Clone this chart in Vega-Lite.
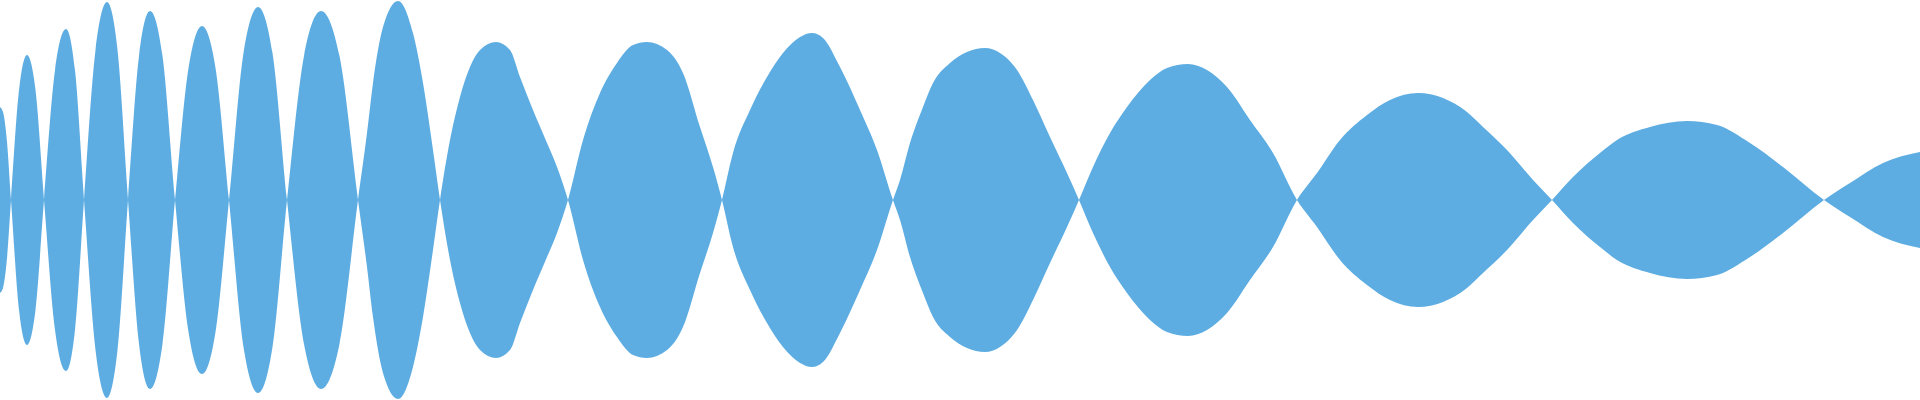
{
  "$schema": "https://vega.github.io/schema/vega-lite/v6.json",
  "width": 1920,
  "height": 400,
  "autosize": {"type": "fit", "contains": "padding"},
  "padding": 0,
  "background": "white",
  "config": {"view": {"stroke": null}},
  "data": {"values": [
    {"t": 0, "upper": 0.465, "lower": -0.465},
    {"t": 0.0156, "upper": 0.44, "lower": -0.44},
    {"t": 0.0365, "upper": 0.29, "lower": -0.29},
    {"t": 0.0573, "upper": 0, "lower": 0},
    {"t": 0.099, "upper": -0.55, "lower": 0.55},
    {"t": 0.1406, "upper": -0.725, "lower": 0.725},
    {"t": 0.1849, "upper": -0.55, "lower": 0.55},
    {"t": 0.2292, "upper": 0, "lower": 0},
    {"t": 0.2865, "upper": 0.65, "lower": -0.65},
    {"t": 0.3438, "upper": 0.855, "lower": -0.855},
    {"t": 0.3906, "upper": 0.65, "lower": -0.65},
    {"t": 0.4375, "upper": 0, "lower": 0},
    {"t": 0.4974, "upper": -0.75, "lower": 0.75},
    {"t": 0.5573, "upper": -0.99, "lower": 0.99},
    {"t": 0.612, "upper": -0.75, "lower": 0.75},
    {"t": 0.6667, "upper": 0, "lower": 0},
    {"t": 0.724, "upper": 0.72, "lower": -0.72},
    {"t": 0.7813, "upper": 0.945, "lower": -0.945},
    {"t": 0.8464, "upper": 0.72, "lower": -0.72},
    {"t": 0.9115, "upper": 0, "lower": 0},
    {"t": 0.9818, "upper": -0.66, "lower": 0.66},
    {"t": 1.0521, "upper": -0.87, "lower": 0.87},
    {"t": 1.1224, "upper": -0.66, "lower": 0.66},
    {"t": 1.1927, "upper": 0, "lower": 0},
    {"t": 1.2682, "upper": 0.735, "lower": -0.735},
    {"t": 1.3438, "upper": 0.965, "lower": -0.965},
    {"t": 1.4193, "upper": 0.735, "lower": -0.735},
    {"t": 1.4948, "upper": 0, "lower": 0},
    {"t": 1.5833, "upper": -0.72, "lower": 0.72},
    {"t": 1.6719, "upper": -0.945, "lower": 0.945},
    {"t": 1.7682, "upper": -0.72, "lower": 0.72},
    {"t": 1.8646, "upper": 0, "lower": 0},
    {"t": 1.9115, "upper": 0.335, "lower": -0.335},
    {"t": 1.9427, "upper": 0.585, "lower": -0.585},
    {"t": 1.9948, "upper": 0.865, "lower": -0.865},
    {"t": 2.0729, "upper": 0.995, "lower": -0.995},
    {"t": 2.151, "upper": 0.835, "lower": -0.835},
    {"t": 2.2031, "upper": 0.585, "lower": -0.585},
    {"t": 2.2552, "upper": 0.25, "lower": -0.25},
    {"t": 2.2917, "upper": 0, "lower": 0},
    {"t": 2.3438, "upper": -0.3, "lower": 0.3},
    {"t": 2.3958, "upper": -0.515, "lower": 0.515},
    {"t": 2.4479, "upper": -0.665, "lower": 0.665},
    {"t": 2.5, "upper": -0.75, "lower": 0.75},
    {"t": 2.5833, "upper": -0.79, "lower": 0.79},
    {"t": 2.6563, "upper": -0.75, "lower": 0.75},
    {"t": 2.7083, "upper": -0.615, "lower": 0.615},
    {"t": 2.776, "upper": -0.45, "lower": 0.45},
    {"t": 2.849, "upper": -0.285, "lower": 0.285},
    {"t": 2.901, "upper": -0.165, "lower": 0.165},
    {"t": 2.9583, "upper": 0, "lower": 0},
    {"t": 3.0365, "upper": 0.3, "lower": -0.3},
    {"t": 3.125, "upper": 0.535, "lower": -0.535},
    {"t": 3.2135, "upper": 0.685, "lower": -0.685},
    {"t": 3.2969, "upper": 0.775, "lower": -0.775},
    {"t": 3.3698, "upper": 0.79, "lower": -0.79},
    {"t": 3.474, "upper": 0.75, "lower": -0.75},
    {"t": 3.5573, "upper": 0.635, "lower": -0.635},
    {"t": 3.6458, "upper": 0.365, "lower": -0.365},
    {"t": 3.7135, "upper": 0.165, "lower": -0.165},
    {"t": 3.7604, "upper": 0, "lower": 0},
    {"t": 3.8177, "upper": -0.235, "lower": 0.235},
    {"t": 3.9063, "upper": -0.45, "lower": 0.45},
    {"t": 3.9948, "upper": -0.615, "lower": 0.615},
    {"t": 4.0781, "upper": -0.735, "lower": 0.735},
    {"t": 4.1667, "upper": -0.815, "lower": 0.815},
    {"t": 4.2292, "upper": -0.835, "lower": 0.835},
    {"t": 4.2865, "upper": -0.81, "lower": 0.81},
    {"t": 4.375, "upper": -0.665, "lower": 0.665},
    {"t": 4.4792, "upper": -0.45, "lower": 0.45},
    {"t": 4.5677, "upper": -0.25, "lower": 0.25},
    {"t": 4.651, "upper": 0, "lower": 0},
    {"t": 4.6875, "upper": 0.1, "lower": -0.1},
    {"t": 4.7396, "upper": 0.285, "lower": -0.285},
    {"t": 4.8073, "upper": 0.465, "lower": -0.465},
    {"t": 4.8594, "upper": 0.585, "lower": -0.585},
    {"t": 4.9479, "upper": 0.685, "lower": -0.685},
    {"t": 5.0365, "upper": 0.74, "lower": -0.74},
    {"t": 5.1302, "upper": 0.76, "lower": -0.76},
    {"t": 5.2083, "upper": 0.735, "lower": -0.735},
    {"t": 5.2969, "upper": 0.65, "lower": -0.65},
    {"t": 5.3802, "upper": 0.5, "lower": -0.5},
    {"t": 5.4688, "upper": 0.315, "lower": -0.315},
    {"t": 5.5573, "upper": 0.135, "lower": -0.135},
    {"t": 5.6198, "upper": 0, "lower": 0},
    {"t": 5.6927, "upper": -0.165, "lower": 0.165},
    {"t": 5.7813, "upper": -0.335, "lower": 0.335},
    {"t": 5.8698, "upper": -0.465, "lower": 0.465},
    {"t": 5.9896, "upper": -0.6, "lower": 0.6},
    {"t": 6.0781, "upper": -0.66, "lower": 0.66},
    {"t": 6.1875, "upper": -0.68, "lower": 0.68},
    {"t": 6.2865, "upper": -0.65, "lower": 0.65},
    {"t": 6.3906, "upper": -0.565, "lower": 0.565},
    {"t": 6.5104, "upper": -0.4, "lower": 0.4},
    {"t": 6.6302, "upper": -0.235, "lower": 0.235},
    {"t": 6.7552, "upper": 0, "lower": 0},
    {"t": 6.8594, "upper": 0.135, "lower": -0.135},
    {"t": 6.9792, "upper": 0.3, "lower": -0.3},
    {"t": 7.1198, "upper": 0.425, "lower": -0.425},
    {"t": 7.2396, "upper": 0.5, "lower": -0.5},
    {"t": 7.3854, "upper": 0.535, "lower": -0.535},
    {"t": 7.5156, "upper": 0.51, "lower": -0.51},
    {"t": 7.6406, "upper": 0.44, "lower": -0.44},
    {"t": 7.724, "upper": 0.365, "lower": -0.365},
    {"t": 7.849, "upper": 0.25, "lower": -0.25},
    {"t": 7.9844, "upper": 0.1, "lower": -0.1},
    {"t": 8.0833, "upper": 0, "lower": 0},
    {"t": 8.1927, "upper": -0.115, "lower": 0.115},
    {"t": 8.3333, "upper": -0.235, "lower": 0.235},
    {"t": 8.4219, "upper": -0.3, "lower": 0.3},
    {"t": 8.5938, "upper": -0.365, "lower": 0.365},
    {"t": 8.7865, "upper": -0.395, "lower": 0.395},
    {"t": 8.9427, "upper": -0.375, "lower": 0.375},
    {"t": 9.1146, "upper": -0.285, "lower": 0.285},
    {"t": 9.2865, "upper": -0.165, "lower": 0.165},
    {"t": 9.5, "upper": 0, "lower": 0},
    {"t": 9.6354, "upper": 0.085, "lower": -0.085},
    {"t": 9.8073, "upper": 0.185, "lower": -0.185},
    {"t": 10, "upper": 0.24, "lower": -0.24}
  ]},
  "mark": {"type": "area", "interpolate": "monotone", "color": "#5dade2", "opacity": 1},
  "encoding": {
    "x": {"field": "t", "type": "quantitative", "scale": {"domain": [0, 10], "nice": false, "zero": false}, "axis": null},
    "y": {"field": "upper", "type": "quantitative", "scale": {"domain": [-1, 1], "nice": false}, "axis": null},
    "y2": {"field": "lower"}
  }
}
